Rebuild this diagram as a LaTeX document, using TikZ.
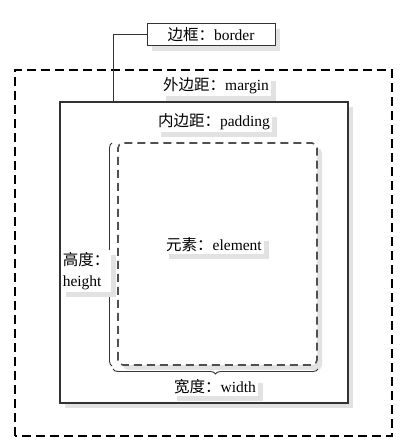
\documentclass[tikz,border=0pt]{standalone}
\usepackage{fontspec}
\setmainfont{Liberation Serif}
\newfontfamily\cjk{Noto Sans CJK SC}
\usetikzlibrary{decorations.pathreplacing,shadows}
\definecolor{LineGray}{HTML}{333333}
\definecolor{DashGray}{HTML}{505050}
\definecolor{ShadowGray}{HTML}{E2E2E2}

\begin{document}
\begin{tikzpicture}[x=1pt,y=1pt,
    shade box/.style={drop shadow={shadow xshift=5pt,shadow yshift=-5pt,fill=ShadowGray,opacity=1}},
    lbl/.style={fill=white,inner sep=2pt,font=\fontsize{15.5}{21}\selectfont,shade box},
    bracebar/.style={draw=LineGray,line width=0.9pt,decorate,decoration={brace,amplitude=5pt}}
  ]
  \useasboundingbox (0,0) rectangle (404,443);
  % margin
  \draw[line width=1.3pt,dash pattern=on 9pt off 5pt] (15,7) rectangle (392,373);
  % border
  \draw[draw=LineGray,line width=1.2pt,fill=white,shade box] (60,40) rectangle (348,341);
  % element
  \draw[draw=DashGray,line width=1.6pt,dash pattern=on 8pt off 5pt,rounded corners=5pt,
        fill=white,shade box] (118,78) rectangle (317,300);
  % braces
  \draw[bracebar] (112,77) -- (112,300);
  \draw[bracebar] (318,74) -- (113,74);
  % labels
  \node[lbl,draw=LineGray,line width=1pt,minimum width=128pt,minimum height=22pt,inner sep=1pt] (bd) at (211,408)
    {{\cjk 边框：}border};
  \coordinate (bt) at (113,341);
  \draw[LineGray,line width=1pt] (bd.west) -| (bt);
  \node[lbl] (mg) at (216,357) {{\cjk 外边距：}margin};
  \node[lbl] (pd) at (214,321) {{\cjk 内边距：}padding};
  \node[lbl] (el) at (214,198) {{\cjk 元素：}element};
  \node[lbl,align=left] (ht) at (86,172) {{\cjk 高度：}\\height};
  \node[lbl] (wd) at (215,56) {{\cjk 宽度：}width};
\end{tikzpicture}
\end{document}
